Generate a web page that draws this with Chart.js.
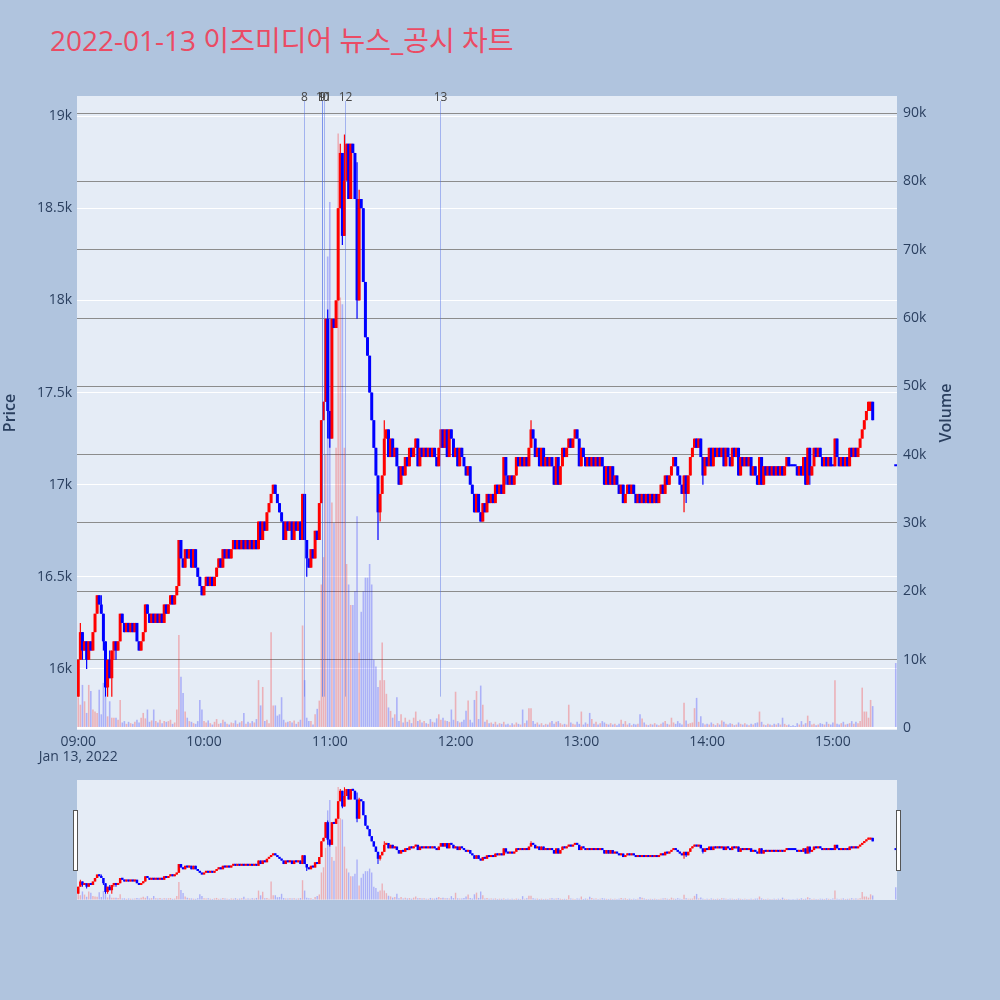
<!DOCTYPE html>
<html>
<head>
<meta charset="utf-8">
<title>이즈미디어 뉴스_공시 차트</title>
<script src="https://cdn.jsdelivr.net/npm/chart.js@4.4.1/dist/chart.umd.min.js"></script>
<style>
  body { margin: 0; width: 1000px; height: 1000px; background: #b0c4de; position: relative; overflow: hidden; }
  #title { position: absolute; left: 50px; top: 22px; line-height: 36px; font-size: 28px; color: #eb4b64;
           font-family: "Open Sans", "Noto Sans CJK KR", sans-serif; white-space: nowrap; }
  #main { position: absolute; left: 0; top: 0; }
  #slider { position: absolute; left: 62px; top: 775px; }
</style>
</head>
<body>
<div id="title">2022-01-13 이즈미디어 뉴스_공시 차트</div>
<canvas id="main" width="1000" height="780"></canvas>
<canvas id="slider" width="850" height="130"></canvas>
<script>
// 1-minute candles, 09:00 .. 15:19, then the 15:30 closing auction
const opens = [
  15850,16050,16200,16100,16150,16050,16150,16100,16200,16300,
  16400,16350,16300,16150,15900,16050,15950,16100,16150,16100,
  16150,16300,16250,16200,16250,16200,16250,16200,16250,16150,
  16100,16150,16200,16350,16300,16250,16300,16250,16300,16250,
  16300,16250,16350,16300,16350,16400,16350,16400,16450,16700,
  16600,16550,16650,16600,16650,16550,16650,16550,16500,16450,
  16400,16450,16500,16450,16500,16450,16500,16550,16600,16550,
  16650,16600,16650,16600,16650,16700,16650,16700,16650,16700,
  16650,16700,16650,16700,16650,16700,16650,16800,16700,16800,
  16750,16850,16900,16950,17000,16950,16900,16850,16800,16700,
  16800,16750,16800,16700,16800,16750,16800,16700,16950,16700,
  16600,16550,16650,16600,16750,16700,16900,17350,17450,17900,
  17400,17250,17900,17850,18000,18500,18800,18350,18650,18850,
  18550,18850,18800,18550,18000,18550,18500,18100,17800,17700,
  17500,17350,17200,17050,16850,16950,17050,17250,17300,17150,
  17250,17150,17200,17100,17000,17100,17050,17150,17100,17200,
  17150,17200,17250,17100,17200,17150,17200,17150,17200,17150,
  17200,17150,17100,17200,17300,17200,17300,17150,17300,17250,
  17150,17200,17100,17200,17150,17100,17050,17100,17000,16950,
  16850,16950,16850,16800,16900,16850,16950,16900,16950,16900,
  17000,16950,17000,16950,17150,17050,17000,17050,17000,17050,
  17150,17100,17150,17100,17150,17100,17200,17300,17250,17150,
  17200,17100,17200,17100,17150,17100,17150,17100,17000,17150,
  17000,17100,17200,17150,17200,17250,17200,17250,17300,17250,
  17100,17200,17150,17100,17150,17100,17150,17100,17150,17100,
  17150,17100,17000,17100,17000,17100,17000,17050,17000,16950,
  17000,16900,16950,17000,16950,17000,16950,16900,16950,16900,
  16950,16900,16950,16900,16950,16900,16950,16900,16950,17000,
  16950,17050,17000,17050,17100,17150,17100,17050,17000,16950,
  17050,16950,17050,17150,17200,17250,17200,17250,17150,17050,
  17150,17100,17200,17100,17200,17150,17200,17150,17200,17100,
  17200,17150,17100,17200,17150,17200,17050,17150,17100,17150,
  17100,17150,17050,17100,17050,17000,17150,17000,17100,17050,
  17100,17050,17100,17050,17100,17050,17100,17050,17100,17150,
  17100,17100,17100,17100,17050,17100,17050,17150,17000,17200,
  17050,17100,17200,17150,17200,17150,17100,17150,17100,17150,
  17100,17100,17250,17150,17100,17150,17100,17150,17100,17200,
  17150,17200,17150,17200,17250,17300,17350,17400,17400,17450,
  17100
];
const closes = [
  16050,16200,16100,16150,16050,16150,16100,16200,16300,16400,
  16350,16300,16150,15900,16050,15950,16100,16150,16100,16150,
  16300,16250,16200,16250,16200,16250,16200,16250,16150,16100,
  16150,16200,16350,16300,16250,16300,16250,16300,16250,16300,
  16250,16350,16300,16350,16400,16350,16400,16450,16700,16600,
  16550,16650,16600,16650,16550,16650,16550,16500,16450,16400,
  16450,16500,16450,16500,16450,16500,16550,16600,16550,16650,
  16600,16650,16600,16650,16700,16650,16700,16650,16700,16650,
  16700,16650,16700,16650,16700,16650,16800,16700,16800,16750,
  16850,16900,16950,17000,16950,16900,16850,16800,16700,16800,
  16750,16800,16700,16800,16750,16800,16700,16950,16700,16600,
  16550,16650,16600,16750,16700,16900,17350,17450,17900,17400,
  17250,17900,17850,18000,18500,18800,18350,18650,18850,18550,
  18850,18800,18550,18000,18550,18500,18100,17800,17700,17500,
  17350,17200,17050,16850,16950,17050,17250,17300,17150,17250,
  17150,17200,17100,17000,17100,17050,17150,17100,17200,17150,
  17200,17250,17100,17200,17150,17200,17150,17200,17150,17200,
  17150,17100,17200,17300,17200,17300,17150,17300,17250,17150,
  17200,17100,17200,17150,17100,17050,17100,17000,16950,16850,
  16950,16850,16800,16900,16850,16950,16900,16950,16900,17000,
  16950,17000,16950,17150,17050,17000,17050,17000,17050,17150,
  17100,17150,17100,17150,17100,17200,17300,17250,17150,17200,
  17100,17200,17100,17150,17100,17150,17100,17000,17150,17000,
  17100,17200,17150,17200,17250,17200,17250,17300,17250,17100,
  17200,17150,17100,17150,17100,17150,17100,17150,17100,17150,
  17100,17000,17100,17000,17100,17000,17050,17000,16950,17000,
  16900,16950,17000,16950,17000,16950,16900,16950,16900,16950,
  16900,16950,16900,16950,16900,16950,16900,16950,17000,16950,
  17050,17000,17050,17100,17150,17100,17050,17000,16950,17050,
  16950,17050,17150,17200,17250,17200,17250,17150,17050,17150,
  17100,17200,17100,17200,17150,17200,17150,17200,17100,17200,
  17150,17100,17200,17150,17200,17050,17150,17100,17150,17100,
  17150,17050,17100,17050,17000,17150,17000,17100,17050,17100,
  17050,17100,17050,17100,17050,17100,17050,17100,17150,17100,
  17100,17100,17100,17050,17100,17050,17150,17000,17200,17050,
  17100,17200,17150,17200,17150,17100,17150,17100,17150,17100,
  17100,17250,17150,17100,17150,17100,17150,17100,17200,17150,
  17200,17150,17200,17250,17300,17350,17400,17450,17450,17350,
  17100
];
const highs = [
  16050,16250,16200,16150,16150,16150,16150,16200,16300,16400,
  16400,16400,16300,16150,16050,16100,16100,16150,16150,16150,
  16300,16300,16250,16250,16250,16250,16250,16250,16250,16150,
  16150,16200,16350,16350,16300,16300,16300,16300,16300,16300,
  16300,16350,16350,16350,16400,16400,16400,16450,16700,16700,
  16600,16650,16650,16650,16650,16650,16650,16550,16500,16450,
  16450,16500,16500,16500,16500,16500,16550,16600,16600,16650,
  16650,16650,16650,16650,16700,16700,16700,16700,16700,16700,
  16700,16700,16700,16700,16700,16700,16800,16800,16800,16800,
  16850,16900,16950,17000,17000,16950,16900,16850,16800,16800,
  16800,16800,16800,16800,16800,16800,16800,16950,16950,16700,
  16600,16650,16650,16750,16750,16900,17350,17450,17900,17950,
  17400,17900,17900,18000,18500,18850,18800,18900,18850,18850,
  18850,18850,18800,18750,18600,18550,18500,18100,17800,17700,
  17500,17350,17200,17050,16950,17050,17350,17300,17300,17250,
  17250,17200,17200,17100,17100,17100,17150,17150,17200,17200,
  17200,17250,17250,17200,17200,17200,17200,17200,17200,17200,
  17200,17150,17200,17300,17300,17300,17300,17300,17300,17250,
  17200,17200,17200,17200,17150,17100,17100,17100,17000,16950,
  16950,16950,16850,16900,16900,16950,16950,16950,16950,17000,
  17000,17000,17000,17150,17150,17050,17050,17050,17050,17150,
  17150,17150,17150,17150,17150,17200,17350,17300,17250,17200,
  17200,17200,17200,17150,17150,17150,17150,17100,17150,17150,
  17100,17200,17200,17200,17250,17250,17250,17300,17300,17250,
  17200,17200,17150,17150,17150,17150,17150,17150,17150,17150,
  17150,17100,17100,17100,17100,17100,17050,17050,17000,17000,
  17000,16950,17000,17000,17000,17000,16950,16950,16950,16950,
  16950,16950,16950,16950,16950,16950,16950,16950,17000,17000,
  17050,17050,17050,17100,17150,17150,17100,17050,17000,17050,
  17050,17050,17150,17200,17250,17250,17250,17250,17150,17150,
  17150,17200,17200,17200,17200,17200,17200,17200,17200,17200,
  17200,17150,17200,17200,17200,17200,17150,17150,17150,17150,
  17150,17150,17100,17100,17050,17150,17150,17100,17100,17100,
  17100,17100,17100,17100,17100,17100,17100,17100,17150,17150,
  17100,17100,17100,17100,17100,17100,17150,17150,17200,17200,
  17100,17200,17200,17200,17200,17150,17150,17150,17150,17150,
  17100,17250,17250,17150,17150,17150,17150,17150,17200,17200,
  17200,17200,17200,17250,17300,17350,17400,17450,17450,17450,
  17100
];
const lows = [
  15850,16050,16050,16100,16000,16050,16100,16100,16200,16300,
  16350,16300,16100,15850,15850,15950,15850,16050,16050,16100,
  16150,16250,16200,16200,16200,16200,16200,16200,16150,16100,
  16100,16150,16200,16300,16250,16250,16250,16250,16250,16250,
  16250,16250,16300,16300,16350,16350,16350,16400,16450,16600,
  16550,16550,16600,16600,16550,16550,16550,16500,16450,16400,
  16400,16450,16450,16450,16450,16450,16500,16550,16550,16550,
  16600,16600,16600,16600,16650,16650,16650,16650,16650,16650,
  16650,16650,16650,16650,16650,16650,16650,16700,16700,16750,
  16750,16850,16900,16950,16950,16900,16850,16800,16700,16700,
  16750,16750,16700,16700,16750,16750,16700,16700,16700,16500,
  16550,16550,16600,16600,16700,16700,16900,17350,17450,17250,
  17200,17250,17850,17850,18000,18500,18300,18350,18650,18550,
  18550,18800,18550,17900,18000,18500,18100,17800,17700,17500,
  17350,17200,17050,16700,16800,16950,17050,17250,17150,17150,
  17150,17150,17100,17000,17000,17050,17050,17100,17100,17150,
  17150,17200,17100,17100,17150,17150,17150,17150,17150,17150,
  17150,17100,17100,17200,17200,17200,17150,17150,17250,17150,
  17150,17100,17100,17150,17100,17050,17050,17000,16950,16850,
  16850,16850,16800,16800,16850,16850,16900,16900,16900,16900,
  16950,16950,16950,16950,17000,17000,17000,17000,17000,17050,
  17100,17100,17100,17100,17100,17100,17200,17250,17150,17150,
  17100,17100,17100,17100,17100,17100,17100,17000,17000,17000,
  17000,17100,17150,17150,17200,17200,17200,17250,17250,17100,
  17100,17150,17100,17100,17100,17100,17100,17100,17100,17100,
  17100,17000,17000,17000,17000,17000,17000,17000,16950,16950,
  16900,16900,16950,16950,16950,16950,16900,16900,16900,16900,
  16900,16900,16900,16900,16900,16900,16900,16900,16950,16950,
  16950,17000,17000,17050,17100,17100,17050,17000,16950,16850,
  16900,16950,17050,17150,17200,17200,17200,17150,17000,17050,
  17100,17100,17100,17100,17150,17150,17150,17150,17100,17100,
  17150,17100,17100,17150,17150,17050,17050,17100,17100,17100,
  17100,17050,17050,17050,17000,17000,17000,17000,17050,17050,
  17050,17050,17050,17050,17050,17050,17050,17050,17100,17100,
  17100,17100,17100,17050,17050,17050,17050,17000,17000,17000,
  17050,17100,17150,17150,17150,17100,17100,17100,17100,17100,
  17100,17100,17150,17100,17100,17100,17100,17100,17100,17150,
  17150,17150,17150,17200,17250,17300,17350,17400,17400,17350,
  17100
];
const volumes = [
  4500,3400,6300,3900,2200,6300,5400,2700,2400,2200,
  5600,2000,6600,4600,1700,3900,1500,1500,1500,1200,
  4100,800,1000,600,900,700,600,900,1200,800,
  1500,2200,1400,2700,900,1100,2700,1000,800,1200,
  700,1000,900,1000,1200,600,800,2700,13600,7500,
  5100,2400,1500,1000,900,700,600,1000,4100,2700,
  1000,800,1100,700,500,900,1300,600,700,1200,
  900,600,500,800,700,1100,600,800,1000,2200,
  600,900,700,1000,800,1300,7000,3300,6000,1000,
  1200,700,14000,3300,3300,1800,2000,4500,1200,800,
  900,1000,800,1100,600,900,1200,15000,7000,1500,
  1000,1000,500,2000,2800,4000,21000,25000,40000,69000,
  77000,33000,30000,41000,87000,63000,62000,41000,24000,21000,
  18000,18000,20000,31000,11000,17000,20000,22000,22000,24000,
  21000,10000,9000,6000,7000,12500,7000,5000,3000,2500,
  1500,2000,4500,1000,2000,800,1500,900,1200,700,
  1500,2400,1000,1200,800,1000,700,600,1300,900,
  800,1400,2000,1200,1500,1100,1000,900,2700,1200,
  5300,1000,800,900,1200,2500,4000,1200,800,4100,
  5400,1300,6200,3400,900,1200,700,800,600,900,
  500,700,600,900,500,600,400,700,500,800,
  600,500,2700,700,1100,2900,2900,1000,600,800,
  500,700,400,600,500,800,1000,600,900,1000,
  700,500,600,500,3400,800,600,500,900,600,
  2400,500,800,600,2200,1300,600,900,500,700,
  1000,800,600,500,700,500,600,400,600,1200,
  600,1000,500,700,400,600,500,600,2000,1400,
  800,500,400,600,500,700,500,400,600,800,
  1000,600,500,1500,800,600,1000,700,500,3700,
  1100,600,700,800,2900,4400,900,1700,700,500,
  600,500,800,600,400,700,500,1100,900,600,
  500,700,600,400,500,800,600,500,700,500,
  400,600,500,700,800,2400,900,500,400,600,
  500,400,600,500,700,500,1500,600,400,500,
  300,400,300,700,500,1000,500,700,1800,1000,
  500,600,400,500,700,600,500,900,600,500,
  800,7000,600,500,700,900,500,600,700,1000,
  600,900,700,1000,5900,2400,2400,1500,4100,3200,
  9500
];

// axis ticks (minutes after 09:00)
const hourTicks = [0, 60, 120, 180, 240, 300, 360];
const hourLabels = ["09:00", "10:00", "11:00", "12:00", "13:00", "14:00", "15:00"];
const dateLabel = "Jan 13, 2022";
const priceTicks = [16000, 16500, 17000, 17500, 18000, 18500, 19000];
const volumeTicks = [0, 10000, 20000, 30000, 40000, 50000, 60000, 70000, 80000, 90000];

// news / disclosure markers
const newsLabels = ["8", "9", "10", "11", "12", "13"];
const newsMinutes = [107.6, 116.3, 116.3, 117.0, 127.3, 172.8];
const newsLineLow = 15850;

const lastTradeMinute = 379;   // 15:19
const closingAuction = 390;    // 15:30
const minutes = opens.map((_, i) => (i <= lastTradeMinute ? i : closingAuction));

const UP = "#ff0000", DOWN = "#0000ff";
const UP_VOL = "rgba(255,0,0,0.25)", DOWN_VOL = "rgba(0,0,255,0.25)";
const isUp = i => closes[i] > opens[i];
const FONT = "'Open Sans', 'Noto Sans CJK KR', sans-serif";
const TEXT = "#2a3f5f";

function makeDatasets(bodyW, wickW, volW) {
    return [
        {
            label: "Volume",
            yAxisID: "y2",
            order: 0,
            data: minutes.map((m, i) => ({ x: m, y: volumes[i] })),
            backgroundColor: minutes.map((m, i) => (isUp(i) ? UP_VOL : DOWN_VOL)),
            barThickness: volW,
            grouped: false,
            inflateAmount: 0
        },
        {
            label: "Body",
            yAxisID: "y",
            order: 1,
            data: minutes.map((m, i) => ({ x: m, y: [opens[i], closes[i]] })),
            backgroundColor: minutes.map((m, i) => (isUp(i) ? UP : DOWN)),
            barThickness: bodyW,
            minBarLength: 2,
            grouped: false,
            inflateAmount: 0
        },
        {
            label: "Wick",
            yAxisID: "y",
            order: 2,
            data: minutes.map((m, i) => ({ x: m, y: [lows[i], highs[i]] })),
            backgroundColor: minutes.map((m, i) => (isUp(i) ? UP : DOWN)),
            barThickness: wickW,
            grouped: false,
            inflateAmount: 0
        }
    ];
}

// grey plot area behind the bars
const plotBackground = {
    id: "plotBackground",
    beforeDraw(chart) {
        const { ctx, chartArea: a } = chart;
        ctx.save();
        ctx.fillStyle = "#e5ecf6";
        ctx.fillRect(a.left, a.top, a.right - a.left, a.bottom - a.top);
        ctx.restore();
    }
};

// vertical news lines with their numbers on top
const newsLines = {
    id: "newsLines",
    afterDatasetsDraw(chart) {
        const { ctx, chartArea: a, scales } = chart;
        const yLow = scales.y.getPixelForValue(newsLineLow);
        ctx.save();
        ctx.strokeStyle = "rgba(80,110,230,0.45)";
        ctx.lineWidth = 1;
        ctx.fillStyle = "#444";
        ctx.font = "12px " + FONT;
        ctx.textAlign = "center";
        ctx.textBaseline = "bottom";
        newsMinutes.forEach((m, i) => {
            const x = Math.round(scales.x.getPixelForValue(m)) + 0.5;
            ctx.beginPath();
            ctx.moveTo(x, a.top + 5);
            ctx.lineTo(x, yLow);
            ctx.stroke();
            ctx.fillText(newsLabels[i], x, a.top + 8);
        });
        ctx.restore();
    }
};

// rotated axis titles (both read bottom to top)
const axisTitles = {
    id: "axisTitles",
    afterDraw(chart) {
        const { ctx, chartArea: a } = chart;
        const midY = (a.top + a.bottom) / 2;
        ctx.save();
        ctx.fillStyle = TEXT;
        ctx.font = "600 16px " + FONT;
        ctx.textAlign = "center";
        ctx.textBaseline = "middle";
        [["Price", 10], ["Volume", 946]].forEach(([t, x]) => {
            ctx.save();
            ctx.translate(x, midY);
            ctx.rotate(-Math.PI / 2);
            ctx.fillText(t, 0, 0);
            ctx.restore();
        });
        ctx.restore();
    }
};

const kLabel = v => (v === 0 ? "0" : v / 1000 + "k");
const tickFont = { family: FONT, size: 14, lineHeight: 1.1 };

new Chart(document.getElementById("main"), {
    type: "bar",
    data: { datasets: makeDatasets(3, 1.2, 1.6) },
    options: {
        responsive: false,
        animation: false,
        layout: { padding: { top: 96, left: 0, right: 0, bottom: 0 } },
        plugins: { legend: { display: false }, tooltip: { enabled: false } },
        scales: {
            x: {
                type: "linear",
                offset: false,
                min: -0.6,
                max: 390.6,
                grid: { display: false, drawTicks: false },
                border: { display: false },
                afterBuildTicks: axis => { axis.ticks = hourTicks.map(v => ({ value: v })); },
                afterFit: axis => { axis.height = 50; },
                ticks: {
                    color: TEXT,
                    font: tickFont,
                    padding: 4,
                    maxRotation: 0,
                    autoSkip: false,
                    callback: (v, i) => (i === 0 ? [hourLabels[i], dateLabel] : hourLabels[i])
                }
            },
            y: {
                position: "left",
                min: 15669,
                max: 19109,
                border: { display: false },
                grid: { color: "#ffffff", lineWidth: 1, drawTicks: false },
                afterBuildTicks: axis => { axis.ticks = priceTicks.map(v => ({ value: v })); },
                afterFit: axis => { axis.width = 77; },
                ticks: { color: TEXT, font: tickFont, padding: 5, callback: kLabel }
            },
            y2: {
                position: "right",
                min: -300,
                max: 92500,
                border: { display: false },
                grid: {
                    color: ctx => (ctx.tick && ctx.tick.value === 0 ? "#ffffff" : "#8c8c8c"),
                    lineWidth: ctx => (ctx.tick && ctx.tick.value === 0 ? 2 : 1),
                    drawTicks: false
                },
                afterBuildTicks: axis => { axis.ticks = volumeTicks.map(v => ({ value: v })); },
                afterFit: axis => { axis.width = 103; },
                ticks: { color: TEXT, font: tickFont, padding: 6, callback: kLabel }
            }
        }
    },
    plugins: [plotBackground, newsLines, axisTitles]
});

// range slider handles
const sliderHandles = {
    id: "sliderHandles",
    afterDraw(chart) {
        const { ctx, chartArea: a } = chart;
        ctx.save();
        ctx.fillStyle = "#ffffff";
        ctx.strokeStyle = "#555";
        ctx.lineWidth = 1;
        [a.left - 4, a.right - 1].forEach(x => {
            ctx.fillRect(x, a.top + 30, 4, 60);
            ctx.strokeRect(x + 0.5, a.top + 30.5, 4, 60);
        });
        ctx.restore();
    }
};

new Chart(document.getElementById("slider"), {
    type: "bar",
    data: { datasets: makeDatasets(2.5, 1, 1.4) },
    options: {
        responsive: false,
        animation: false,
        layout: { padding: { top: 5, left: 15, right: 15, bottom: 5 } },
        plugins: { legend: { display: false }, tooltip: { enabled: false } },
        scales: {
            x: { type: "linear", offset: false, min: -0.6, max: 390.6, display: false },
            y: { min: 15669, max: 19109, display: false },
            y2: { position: "right", min: -300, max: 92500, display: false }
        }
    },
    plugins: [plotBackground, sliderHandles]
});
</script>
</body>
</html>
